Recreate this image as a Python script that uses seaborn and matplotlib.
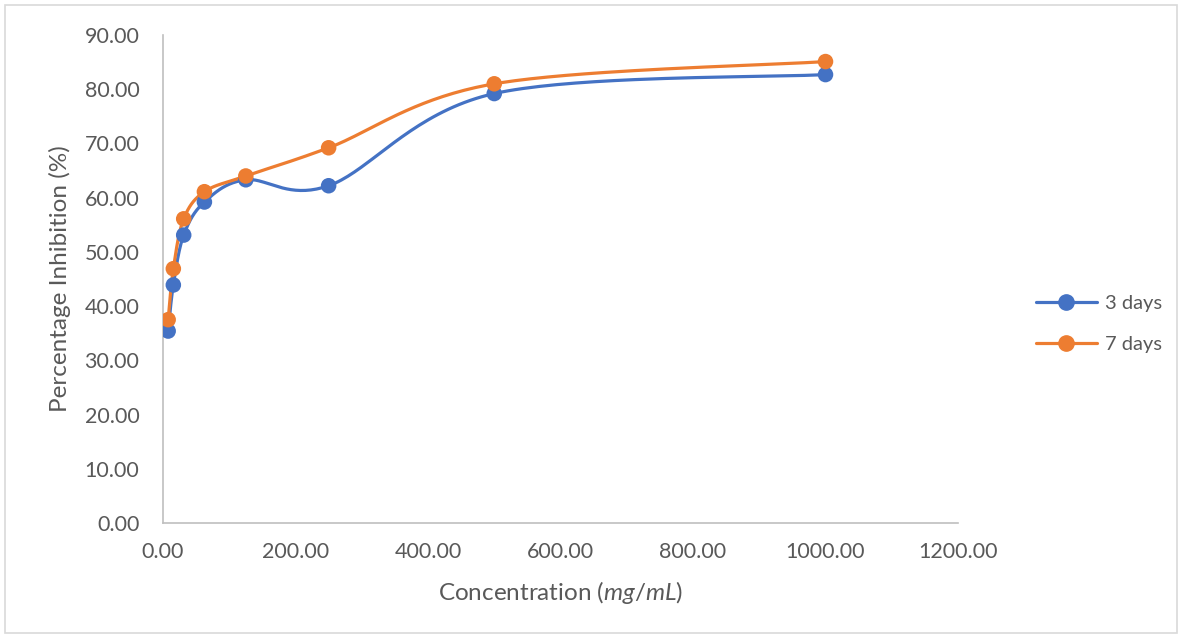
import numpy as np
import pandas as pd
import matplotlib
matplotlib.use('Agg')
import matplotlib.pyplot as plt
import seaborn as sns
from matplotlib.patches import Rectangle

# data
conc = [7.8, 15.6, 31.25, 62.5, 125, 250, 500, 1000]
days3 = [35.4, 43.9, 53.1, 59.2, 63.3, 62.2, 79.2, 82.7]
days7 = [37.5, 46.9, 56.1, 61.1, 64.0, 69.2, 81.0, 85.1]
series_names = ['3 days', '7 days']
colors = {'3 days': '#4472C4', '7 days': '#ED7D31'}

sns.set_style('white')
plt.rcParams['font.family'] = ['Lato', 'DejaVu Sans']
plt.rcParams['mathtext.fontset'] = 'custom'
plt.rcParams['mathtext.it'] = 'Lato:italic'
plt.rcParams['mathtext.rm'] = 'Lato'

XMAX, YMAX = 1200, 90
W_PX, H_PX = 795, 488  # axis size, used to smooth in screen space like Excel


def smooth(xs, ys, n=40):
    # Catmull-Rom style bezier, computed in screen units
    u = np.array(xs) / XMAX * W_PX
    v = np.array(ys) / YMAX * H_PX
    pts = np.column_stack([u, v])
    out = []
    for i in range(len(pts) - 1):
        p0 = pts[max(i - 1, 0)]
        p1 = pts[i]
        p2 = pts[i + 1]
        p3 = pts[min(i + 2, len(pts) - 1)]
        c1 = p1 + (p2 - p0) / 6
        c2 = p2 - (p3 - p1) / 6
        t = np.linspace(0, 1, n)[:, None]
        seg = ((1 - t) ** 3) * p1 + 3 * ((1 - t) ** 2) * t * c1 + 3 * (1 - t) * t ** 2 * c2 + t ** 3 * p2
        out.append(seg if i == 0 else seg[1:])
    out = np.vstack(out)
    return out[:, 0] / W_PX * XMAX, out[:, 1] / H_PX * YMAX


points = pd.DataFrame({
    'conc': conc * 2,
    'value': days3 + days7,
    'series': [series_names[0]] * len(conc) + [series_names[1]] * len(conc),
})

curves = []
for name, vals in zip(series_names, [days3, days7]):
    sx, sy = smooth(conc, vals)
    curves.append(pd.DataFrame({'conc': sx, 'value': sy, 'series': name, 'order': np.arange(len(sx))}))
curves = pd.concat(curves)

fig = plt.figure(figsize=(11.83, 6.38), dpi=100)
ax = fig.add_axes([163 / 1183, 1 - 523 / 638, 795 / 1183, 488 / 638])

sns.lineplot(data=curves, x='conc', y='value', hue='series', palette=colors,
             sort=False, estimator=None, units='series', linewidth=2.3, legend=False, ax=ax)
sns.scatterplot(data=points, x='conc', y='value', hue='series', palette=colors,
                s=125, edgecolor='none', legend=False, ax=ax, zorder=3)

ax.set_xlim(0, XMAX)
ax.set_ylim(0, YMAX)
ax.set_xticks(np.arange(0, 1201, 200))
ax.set_yticks(np.arange(0, 91, 10))
ax.set_xticklabels([f'{v:.2f}' for v in np.arange(0, 1201, 200)])
ax.set_yticklabels([f'{v:.2f}' for v in np.arange(0, 91, 10)])
ax.tick_params(axis='y', length=0, labelsize=15.5, colors='#595959', pad=17)
ax.tick_params(axis='x', length=0, labelsize=15.5, colors='#595959', pad=14)

for s in ['top', 'right']:
    ax.spines[s].set_visible(False)
for s in ['left', 'bottom']:
    ax.spines[s].set_color('#bfbfbf')
    ax.spines[s].set_linewidth(1.2)

ax.set_xlabel('Concentration ($\\mathit{mg/mL}$)', fontsize=17.5, color='#595959', labelpad=12)
ax.set_ylabel('Percentage Inhibition (%)', fontsize=17.5, color='#595959', labelpad=10)

# legend on the right
handles = [plt.Line2D([], [], color=colors[n], marker='o', markersize=11, linewidth=2.3) for n in series_names]
fig.legend(handles, series_names, loc='center left', bbox_to_anchor=(1018 / 1183, 1 - 324 / 638),
           frameon=False, fontsize=14.5, labelcolor='#595959', handlelength=3.0,
           handletextpad=0.4, labelspacing=1.15)

# outer chart border
fig.add_artist(Rectangle((5 / 1183, 5 / 638), 1172 / 1183, 628 / 638, transform=fig.transFigure,
                         fill=False, edgecolor='#d9d9d9', linewidth=1.2))

fig.savefig('out.png', dpi=100)
